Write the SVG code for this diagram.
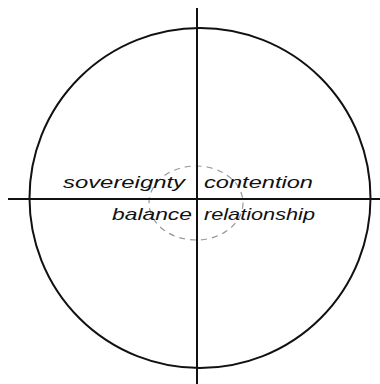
<svg xmlns="http://www.w3.org/2000/svg" width="380" height="384" viewBox="0 0 380 384">
<style>
.ax{stroke:#111;stroke-width:2;fill:none}
.lbl{font-family:"Liberation Sans","DejaVu Sans",sans-serif;font-style:italic;font-size:17px;fill:#111}
</style>
<rect width="380" height="384" fill="#fff"/>
<g id="outer-circle"><ellipse cx="200" cy="198" rx="170.5" ry="170" class="ax" stroke-width="1.6"/></g>
<g id="inner-circle"><ellipse cx="196" cy="203" rx="47" ry="37" fill="none" stroke="#999" stroke-width="1.2" stroke-dasharray="6,5"/></g>
<g id="connectors">
<line x1="197" y1="8" x2="197" y2="384" class="ax"/>
<line x1="8" y1="199" x2="380" y2="199" class="ax"/>
</g>
<g id="sovereignty"><text class="lbl" x="63" y="188" textLength="122" lengthAdjust="spacingAndGlyphs">sovereignty</text></g>
<g id="contention"><text class="lbl" x="204" y="188" textLength="109" lengthAdjust="spacingAndGlyphs">contention</text></g>
<g id="balance"><text class="lbl" x="112" y="220" textLength="80" lengthAdjust="spacingAndGlyphs">balance</text></g>
<g id="relationship"><text class="lbl" x="204" y="220" textLength="111" lengthAdjust="spacingAndGlyphs">relationship</text></g>
</svg>
